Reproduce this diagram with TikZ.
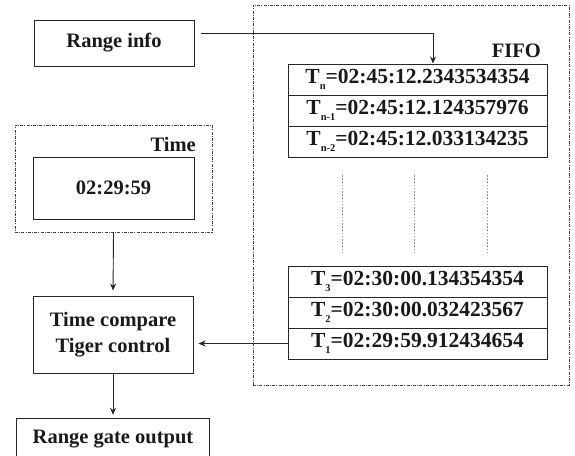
\documentclass[tikz,border=0pt]{standalone}
\usepackage{fontspec}
\setmainfont{Liberation Serif}
\usetikzlibrary{arrows.meta}
% small lowered index after a T
\newcommand{\tidx}[1]{\raisebox{-0.3em}{\fontsize{10.5}{10.5}\selectfont #1}}
\begin{document}
\begin{tikzpicture}[x=1pt,y=-1pt,
  every node/.style={font=\fontsize{20.5}{23}\selectfont\bfseries, inner sep=0pt, text=black!90},
  box/.style={draw=black!85, line width=1pt, rectangle},
  dbox/.style={draw=black!75, line width=0.8pt, dash pattern=on 3pt off 1.2pt on 1pt off 1.2pt, rectangle},
  rowbox/.style={box, minimum width=259pt, minimum height=31pt, font=\fontsize{21.5}{23}\selectfont\bfseries},
  arr/.style={draw=black!85, line width=0.9pt, -{Stealth[length=7pt,width=6pt]}},
  dotv/.style={draw=black!45, line width=0.9pt, dash pattern=on 1.6pt off 1.6pt}]
\useasboundingbox (0,0) rectangle (575,455);

% left column
\node[box, minimum width=160pt, minimum height=46pt] (ri) at (114,43) {Range info};
\node[dbox, minimum width=197pt, minimum height=107pt] (timebox) at (113.5,178.5) {};
\node[anchor=east] (timelbl) at (196,144) {Time};
\node[box, minimum width=161pt, minimum height=62pt] (clk) at (113.5,188) {02:29:59};
\node[box, minimum width=160pt, minimum height=77pt, align=center] (cmp) at (113,334.5)
  {Time compare\\[3pt]Tiger control};
\node[minimum width=192pt, minimum height=40pt] (gate) at (113,439) {Range gate output};
\draw[black!85, line width=1pt] (gate.south west) |- (gate.north east) -- (gate.south east);

% FIFO buffer
\node[dbox, minimum width=316pt, minimum height=380pt] (fifo) at (411,195) {};
\node[anchor=east] (fifolbl) at (541,51) {FIFO};
\node[rowbox] (rn)  at (417.5,79.5)  {T\tidx{n}=02:45:12.2343534354};
\node[rowbox] (rn1) at (417.5,110.5) {T\tidx{n-1}=02:45:12.124357976};
\node[rowbox] (rn2) at (417.5,141.5) {T\tidx{n-2}=02:45:12.033134235};
\node[rowbox] (r3)  at (417.5,281.5) {T\tidx{3}=02:30:00.134354354};
\node[rowbox] (r2)  at (417.5,312.5) {T\tidx{2}=02:30:00.032423567};
\node[rowbox] (r1)  at (417.5,343.5) {T\tidx{1}=02:29:59.912434654};

% elided rows
\coordinate (d1a) at (342,175); \coordinate (d1b) at (342,253);
\coordinate (d2a) at (414,175); \coordinate (d2b) at (414,253);
\coordinate (d3a) at (487,175); \coordinate (d3b) at (487,253);
\draw[dotv] (d1a) -- (d1b);
\draw[dotv] (d2a) -- (d2b);
\draw[dotv] (d3a) -- (d3b);

% connectors
\draw[arr] ([xshift=6pt,yshift=10pt]ri.east) -| ([xshift=15.5pt]rn.north);
\draw[arr, shorten >=5pt] (timebox.south) -- (cmp.north);
\draw[arr, shorten >=5pt] (r1.west) -- (r1.west -| cmp.east);
\draw[arr, shorten >=4pt] (cmp.south) -- (gate.north);
\end{tikzpicture}
\end{document}
